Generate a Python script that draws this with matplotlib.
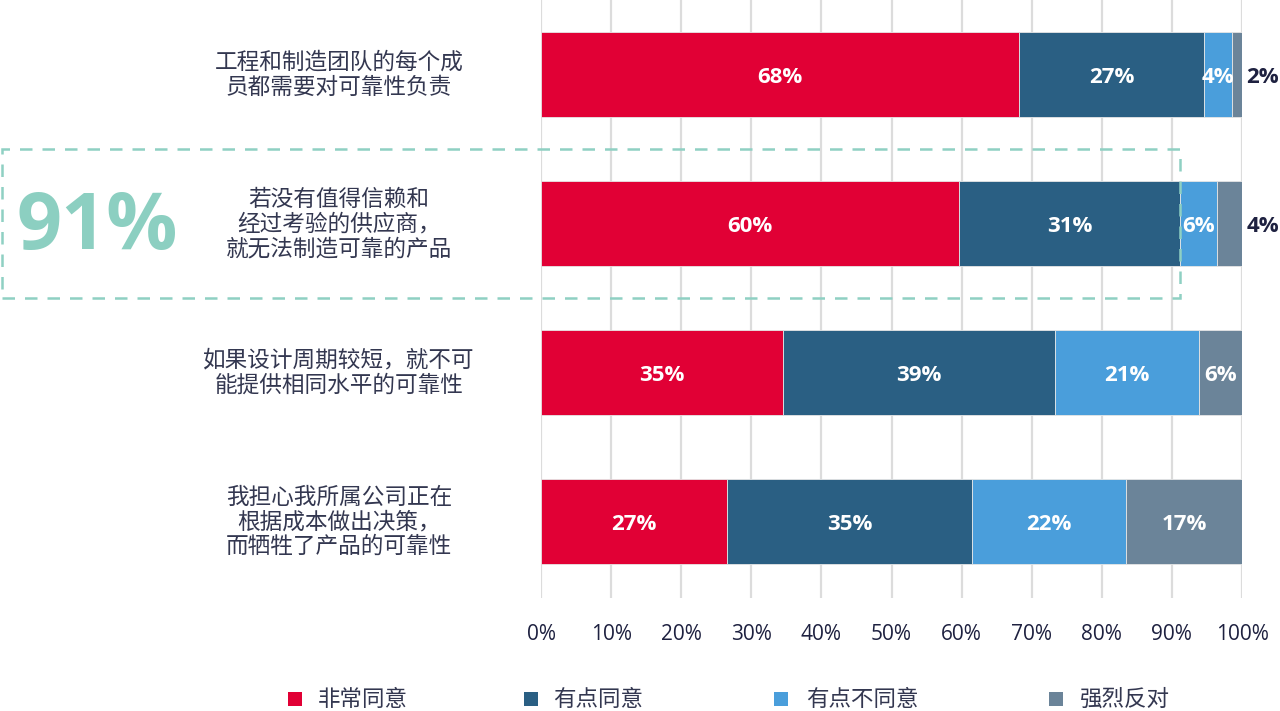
import matplotlib
matplotlib.use("Agg")
import matplotlib.pyplot as plt
from matplotlib.patches import Rectangle
from matplotlib.transforms import blended_transform_factory

plt.rcParams['font.family'] = ['Noto Sans CJK SC', 'DejaVu Sans']

categories = [
    "工程和制造团队的每个成\n员都需要对可靠性负责",
    "若没有值得信赖和\n经过考验的供应商，\n就无法制造可靠的产品",
    "如果设计周期较短，就不可\n能提供相同水平的可靠性",
    "我担心我所属公司正在\n根据成本做出决策，\n而牺牲了产品的可靠性",
]
series_names = ["非常同意", "有点同意", "有点不同意", "强烈反对"]
# segment widths (percent) as drawn
strongly_agree = [68.2, 59.6, 34.5, 26.5]
somewhat_agree = [26.4, 31.6, 38.8, 35.0]
somewhat_disagree = [4.0, 5.2, 20.5, 22.0]
strongly_disagree = [1.4, 3.6, 6.2, 16.5]
# printed labels
labels_sa = ["68%", "60%", "35%", "27%"]
labels_a = ["27%", "31%", "39%", "35%"]
labels_d = ["4%", "6%", "21%", "22%"]
labels_sd = ["2%", "4%", "6%", "17%"]
xticks = [0, 10, 20, 30, 40, 50, 60, 70, 80, 90, 100]
xtick_labels = [f"{t}%" for t in xticks]
highlight = "91%"

colors = ["#e10035", "#2a5f83", "#4a9edb", "#6b8499"]
navy = "#1e2140"
textc = "#333750"
latin = ["Open Sans", "DejaVu Sans"]

W, H = 1280, 711
fig = plt.figure(figsize=(12.8, 7.11), dpi=100)
ax = fig.add_axes([541/W, 1 - 598/H, (1242-541)/W, 598/H])

series = [strongly_agree, somewhat_agree, somewhat_disagree, strongly_disagree]
labels = [labels_sa, labels_a, labels_d, labels_sd]
ys = list(range(len(categories)))
left = [0.0] * len(categories)
for s, (vals, labs) in enumerate(zip(series, labels)):
    ax.barh(ys, vals, left=left, height=0.57, color=colors[s],
            edgecolor="#e6e6e6", linewidth=0.6, zorder=3)
    for i, (v, lab) in enumerate(zip(vals, labs)):
        if s == 3 and v < 5:
            ax.text(100 + 0.6, i + 0.02, lab, ha="left", va="center", color=navy,
                    fontsize=16, fontweight="bold", family=latin, zorder=5)
        else:
            ax.text(left[i] + v / 2, i + 0.02, lab, ha="center", va="center", color="white",
                    fontsize=16, fontweight="bold", family=latin, zorder=5)
    left = [l + v for l, v in zip(left, vals)]

ax.set_xlim(0, 100)
ax.set_ylim(3.51, -0.5)
ax.set_xticks(xticks)
ax.set_xticklabels(xtick_labels, fontsize=15, color=navy, family=latin)
ax.tick_params(axis="x", length=0, pad=19)
ax.set_yticks([])
ax.grid(axis="x", color="#dcdcdc", linewidth=1.6, zorder=0)
for sp in ax.spines.values():
    sp.set_visible(False)

# category labels
tr = blended_transform_factory(fig.transFigure, ax.transData)
for i, c in enumerate(categories):
    fig.text(339/W, i, c, transform=tr, ha="center", va="center", fontsize=16.3,
             color=textc, linespacing=1.1, multialignment="center")

# dashed highlight box (figure pixel coords)
box = Rectangle((2/W, 1 - 298/H), (1180-2)/W, (298-149)/H,
                transform=fig.transFigure, fill=False, edgecolor="#8fd0c3",
                linestyle=(0, (5, 4)), linewidth=1.8, zorder=10)
fig.add_artist(box)
fig.text(97/W, 1 - 228/H, highlight, ha="center", va="center", fontsize=57,
         fontweight="bold", color="#8ccfc1", family=latin)

# legend (manual)
sq_x = [288, 524, 774, 1049]
txt_x = [318, 553, 806, 1080]
ly = 699
for c, name, sx, tx in zip(colors, series_names, sq_x, txt_x):
    fig.add_artist(Rectangle((sx/W, 1 - (ly+7)/H), 14/W, 14/H, transform=fig.transFigure,
                             facecolor=c, edgecolor="none"))
    fig.text(tx/W, 1 - ly/H, name, ha="left", va="center", fontsize=16.2, color=textc)

fig.savefig("out.png", dpi=100)
